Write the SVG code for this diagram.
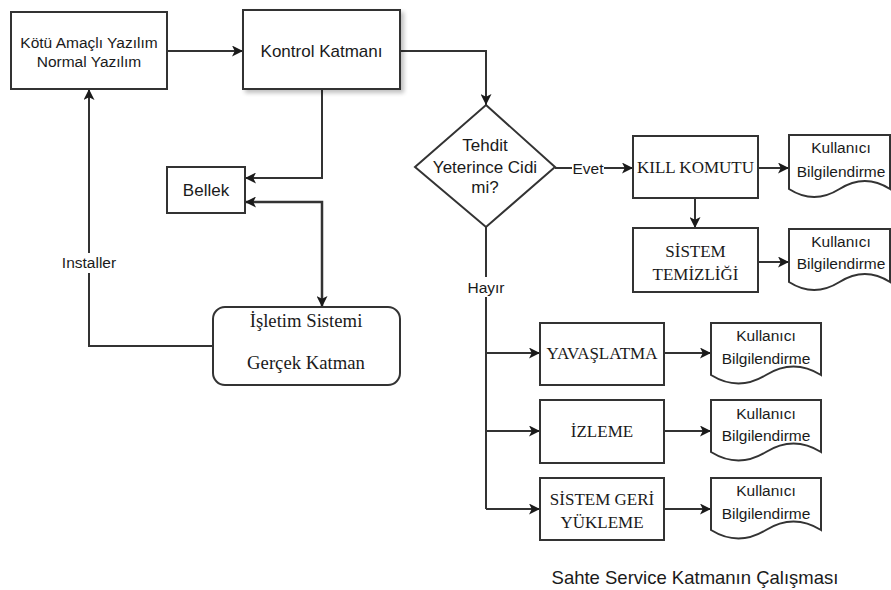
<svg xmlns="http://www.w3.org/2000/svg" width="891" height="590" viewBox="0 0 891 590">
<defs>
<style>
.box{fill:#fff;stroke:#333;stroke-width:2}
.ln{fill:none;stroke:#333;stroke-width:2}
.s{font-family:"Liberation Sans",Arial,sans-serif;font-size:15.5px;fill:#1a1a1a;text-anchor:middle}
.s17{font-size:17px}
.cap{font-size:18.5px}
.r{font-family:"Liberation Serif","Times New Roman",serif;font-size:17px;fill:#1a1a1a;text-anchor:middle}
.big{font-size:18.7px}
.lbl{fill:#fff;stroke:none}
</style>
<marker id="ar" viewBox="0 0 10 10" refX="10" refY="5" markerWidth="11" markerHeight="11" markerUnits="userSpaceOnUse" orient="auto-start-reverse">
<path d="M0,0 L10,5 L0,10 L2.5,5 z" fill="#1a1a1a"/>
</marker>
<filter id="sh" x="-10%" y="-10%" width="130%" height="130%">
<feGaussianBlur in="SourceAlpha" stdDeviation="2"/>
<feOffset dx="3" dy="3" result="b"/>
<feComponentTransfer><feFuncA type="linear" slope="0.25"/></feComponentTransfer>
<feMerge><feMergeNode/><feMergeNode in="SourceGraphic"/></feMerge>
</filter>
</defs>
<rect width="891" height="590" fill="#fff"/>

<g id="connectors">
<path class="ln" d="M167,51 H243" marker-end="url(#ar)"/>
<path class="ln" d="M400,51 H486 V105" marker-end="url(#ar)"/>
<path class="ln" d="M322,89 V178 H245" marker-end="url(#ar)"/>
<path class="ln" d="M245,202 H322 V307" style="stroke-width:2.5" marker-start="url(#ar)" marker-end="url(#ar)"/>
<path class="ln" d="M213,346 H89 V89" marker-end="url(#ar)"/>
<rect class="lbl" x="60" y="253" width="58" height="20"/>
<text class="s" x="89" y="267.5">Installer</text>
<path class="ln" d="M555,168 H633" marker-end="url(#ar)"/>
<rect class="lbl" x="572" y="159" width="32" height="18"/>
<text class="s" x="588" y="173.5">Evet</text>
<path class="ln" d="M758,168 H789" marker-end="url(#ar)"/>
<path class="ln" d="M695,198 V228" marker-end="url(#ar)"/>
<path class="ln" d="M758,262 H789" marker-end="url(#ar)"/>
<path class="ln" d="M486,227 V509"/>
<rect class="lbl" x="466" y="277" width="40" height="20"/>
<text class="s" x="486" y="292.5">Hayır</text>
<path class="ln" d="M486,353 H540" marker-end="url(#ar)"/>
<path class="ln" d="M486,431 H540" marker-end="url(#ar)"/>
<path class="ln" d="M486,509 H540" marker-end="url(#ar)"/>
<path class="ln" d="M664,353 H711" marker-end="url(#ar)"/>
<path class="ln" d="M664,431 H711" marker-end="url(#ar)"/>
<path class="ln" d="M664,509 H711" marker-end="url(#ar)"/>
</g>

<g id="malware">
<rect class="box" x="11" y="12" width="156" height="77"/>
<text class="s" x="89" y="47.5">Kötü Amaçlı Yazılım</text>
<text class="s" x="89" y="66.5">Normal Yazılım</text>
</g>

<g id="kontrol">
<rect class="box" x="243" y="10" width="157" height="79" filter="url(#sh)"/>
<text class="s s17" x="321.5" y="57">Kontrol Katmanı</text>
</g>

<g id="bellek">
<rect class="box" x="167" y="167" width="78" height="46"/>
<text class="s s17" x="206" y="196">Bellek</text>
</g>

<g id="isletim">
<rect class="box" x="213" y="307" width="187" height="78" rx="12"/>
<text class="r big" x="306" y="327">İşletim Sistemi</text>
<text class="r big" x="306" y="369">Gerçek Katman</text>
</g>

<g id="decision">
<path class="box" d="M486,105 L555,167 L486,227 L415,167 Z"/>
<text class="s s17" x="485" y="150.5">Tehdit</text>
<text class="s s17" x="485" y="172.5">Yeterince Cidi</text>
<text class="s s17" x="485" y="192.5">mi?</text>
</g>

<g id="kill">
<rect class="box" x="633" y="136" width="125" height="62"/>
<text class="r" x="695.5" y="172.5">KILL KOMUTU</text>
</g>

<g id="temizlik">
<rect class="box" x="633" y="228" width="125" height="64"/>
<text class="r" x="695.5" y="257">SİSTEM</text>
<text class="r" x="695.5" y="280">TEMİZLİĞİ</text>
</g>

<g id="doc1">
<path class="box" d="M789,135 H890 V189 Q865,173 839.5,189 Q814,205 789,189 Z"/>
<text class="s" x="841" y="152.5">Kullanıcı</text>
<text class="s" x="841" y="176.5">Bilgilendirme</text>
</g>

<g id="doc2">
<path class="box" d="M789,229 H890 V282 Q865,266 839.5,282 Q814,298 789,282 Z"/>
<text class="s" x="841" y="246.5">Kullanıcı</text>
<text class="s" x="841" y="268.5">Bilgilendirme</text>
</g>

<g id="yavaslatma">
<rect class="box" x="540" y="323" width="124" height="62"/>
<text class="r" x="602" y="359">YAVAŞLATMA</text>
</g>

<g id="izleme">
<rect class="box" x="540" y="400" width="124" height="63"/>
<text class="r" x="602" y="437">İZLEME</text>
</g>

<g id="geriyukleme">
<rect class="box" x="540" y="478" width="124" height="62"/>
<text class="r" x="602" y="505">SİSTEM GERİ</text>
<text class="r" x="602" y="528">YÜKLEME</text>
</g>

<g id="doc3">
<path class="box" d="M711,323 H821 V375 Q793.5,358 766,375 Q738.5,392 711,375 Z"/>
<text class="s" x="766" y="340.5">Kullanıcı</text>
<text class="s" x="766" y="363.5">Bilgilendirme</text>
</g>

<g id="doc4">
<path class="box" d="M711,400 H821 V452 Q793.5,435 766,452 Q738.5,469 711,452 Z"/>
<text class="s" x="766" y="418.5">Kullanıcı</text>
<text class="s" x="766" y="440.5">Bilgilendirme</text>
</g>

<g id="doc5">
<path class="box" d="M711,478 H821 V530 Q793.5,513 766,530 Q738.5,547 711,530 Z"/>
<text class="s" x="766" y="495.5">Kullanıcı</text>
<text class="s" x="766" y="518.5">Bilgilendirme</text>
</g>

<g id="caption">
<text class="s cap" x="695" y="583.5">Sahte Service Katmanın Çalışması</text>
</g>
</svg>
